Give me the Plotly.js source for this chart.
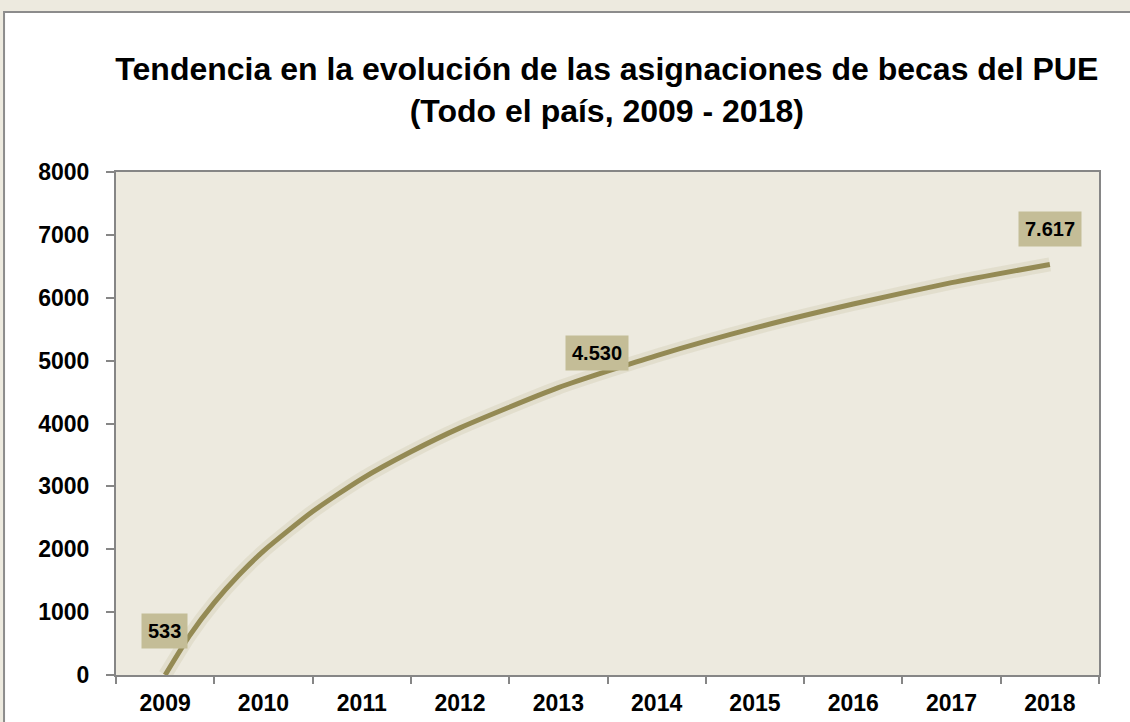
<!DOCTYPE html>
<html><head><meta charset="utf-8">
<script src="https://cdn.plot.ly/plotly-3.0.1.min.js"></script>
<style>html,body{margin:0;padding:0;background:#EDEADF;}#chart{width:1130px;height:722px;}</style>
</head><body><div id="chart"></div>
<script>
// Categories (years)
const years = [2009, 2010, 2011, 2012, 2013, 2014, 2015, 2016, 2017, 2018];
const yearLabels = ['2009','2010','2011','2012','2013','2014','2015','2016','2017','2018'];
// Trend line positions and values
const trendX = [2009, 2009.25, 2009.5, 2009.75, 2010, 2010.5, 2011, 2011.5, 2012, 2013, 2014, 2015, 2016, 2017, 2018];
const trendValues = [0, 630, 1150, 1590, 1970, 2600, 3120, 3550, 3930, 4570, 5080, 5520, 5900, 6240, 6530];
// Labelled data points
const labelYears = [2009, 2013, 2018];
const labelValues = [533, 4530, 7617];
const labelTexts = ['533','4.530','7.617'];

const FONT = '"Liberation Sans", Arial, sans-serif';
const labelShift = [{x:-1,y:10},{x:39,y:37},{x:0,y:-33}];

const annotations = labelYears.map((yr,i)=>({
  x: yr, y: labelValues[i], xref:'x', yref:'y',
  text: '<b>'+labelTexts[i]+'</b>', showarrow:false,
  xshift: labelShift[i].x, yshift: labelShift[i].y,
  bgcolor:'#C4BD97', borderpad:6,
  font:{family:FONT, size:20, color:'#000'}
}));

const boundaries = years.map(y=>y-0.5).concat([years[years.length-1]+0.5]);

const shadow = {
  x: trendX, y: trendValues, type:'scatter', mode:'lines',
  line:{color:'rgba(148,138,84,0.12)', width:14, shape:'spline', smoothing:0.6},
  hoverinfo:'skip', showlegend:false
};
const trace = {
  x: trendX, y: trendValues, type:'scatter', mode:'lines',
  line:{color:'#948A54', width:5, shape:'spline', smoothing:0.6},
  hoverinfo:'skip', showlegend:false
};
const ticker = {
  x: boundaries, y: boundaries.map(()=>0), xaxis:'x2', yaxis:'y', type:'scatter', mode:'none',
  hoverinfo:'skip', showlegend:false
};

const layout = {
  width:1130, height:722,
  paper_bgcolor:'#EDEADF', plot_bgcolor:'#EDEADF',
  margin:{l:116, r:31, t:172, b:47},
  title:{text:'<b>Tendencia en la evolución de las asignaciones de becas del PUE<br>(Todo el país, 2009 - 2018)</b>',
    font:{family:FONT, size:32, color:'#000'}, x:0.537, xanchor:'center', y:0.889, yanchor:'middle'},
  xaxis:{range:[2008.5,2018.5], tickvals:years, ticktext:yearLabels, ticks:'',
    showline:true, linecolor:'#868686', linewidth:2, mirror:true, showgrid:false, zeroline:false,
    ticklabelstandoff:6,
    tickfont:{family:FONT, size:23, color:'#000', weight:'bold'}},
  xaxis2:{range:[2008.5,2018.5], overlaying:'x', side:'bottom', tickvals:boundaries, ticks:'outside',
    ticklen:8, tickwidth:2, tickcolor:'#868686', showticklabels:false, showgrid:false, zeroline:false, showline:false},
  yaxis:{range:[0,8000], dtick:1000, ticks:'outside', ticklen:8, tickwidth:2, tickcolor:'#868686',
    showline:true, linecolor:'#868686', linewidth:2, mirror:true, showgrid:false, zeroline:false,
    ticklabelstandoff:12,
    tickformat:'d', tickfont:{family:FONT, size:23, color:'#000', weight:'bold'}},
  shapes:[
    {type:'rect', xref:'paper', yref:'paper', x0:-0.1139, x1:1.05, y0:-0.15, y1:1.318,
     fillcolor:'#FFFFFF', line:{color:'#8C8C8C', width:2}, layer:'below'},
    {type:'rect', xref:'paper', yref:'paper', x0:0, x1:1, y0:0, y1:1,
     fillcolor:'#EDEADF', line:{width:0}, layer:'below'}
  ],
  annotations: annotations
};
Plotly.newPlot('chart',[shadow, trace, ticker],layout,{displayModeBar:false, staticPlot:true});
</script></body></html>
